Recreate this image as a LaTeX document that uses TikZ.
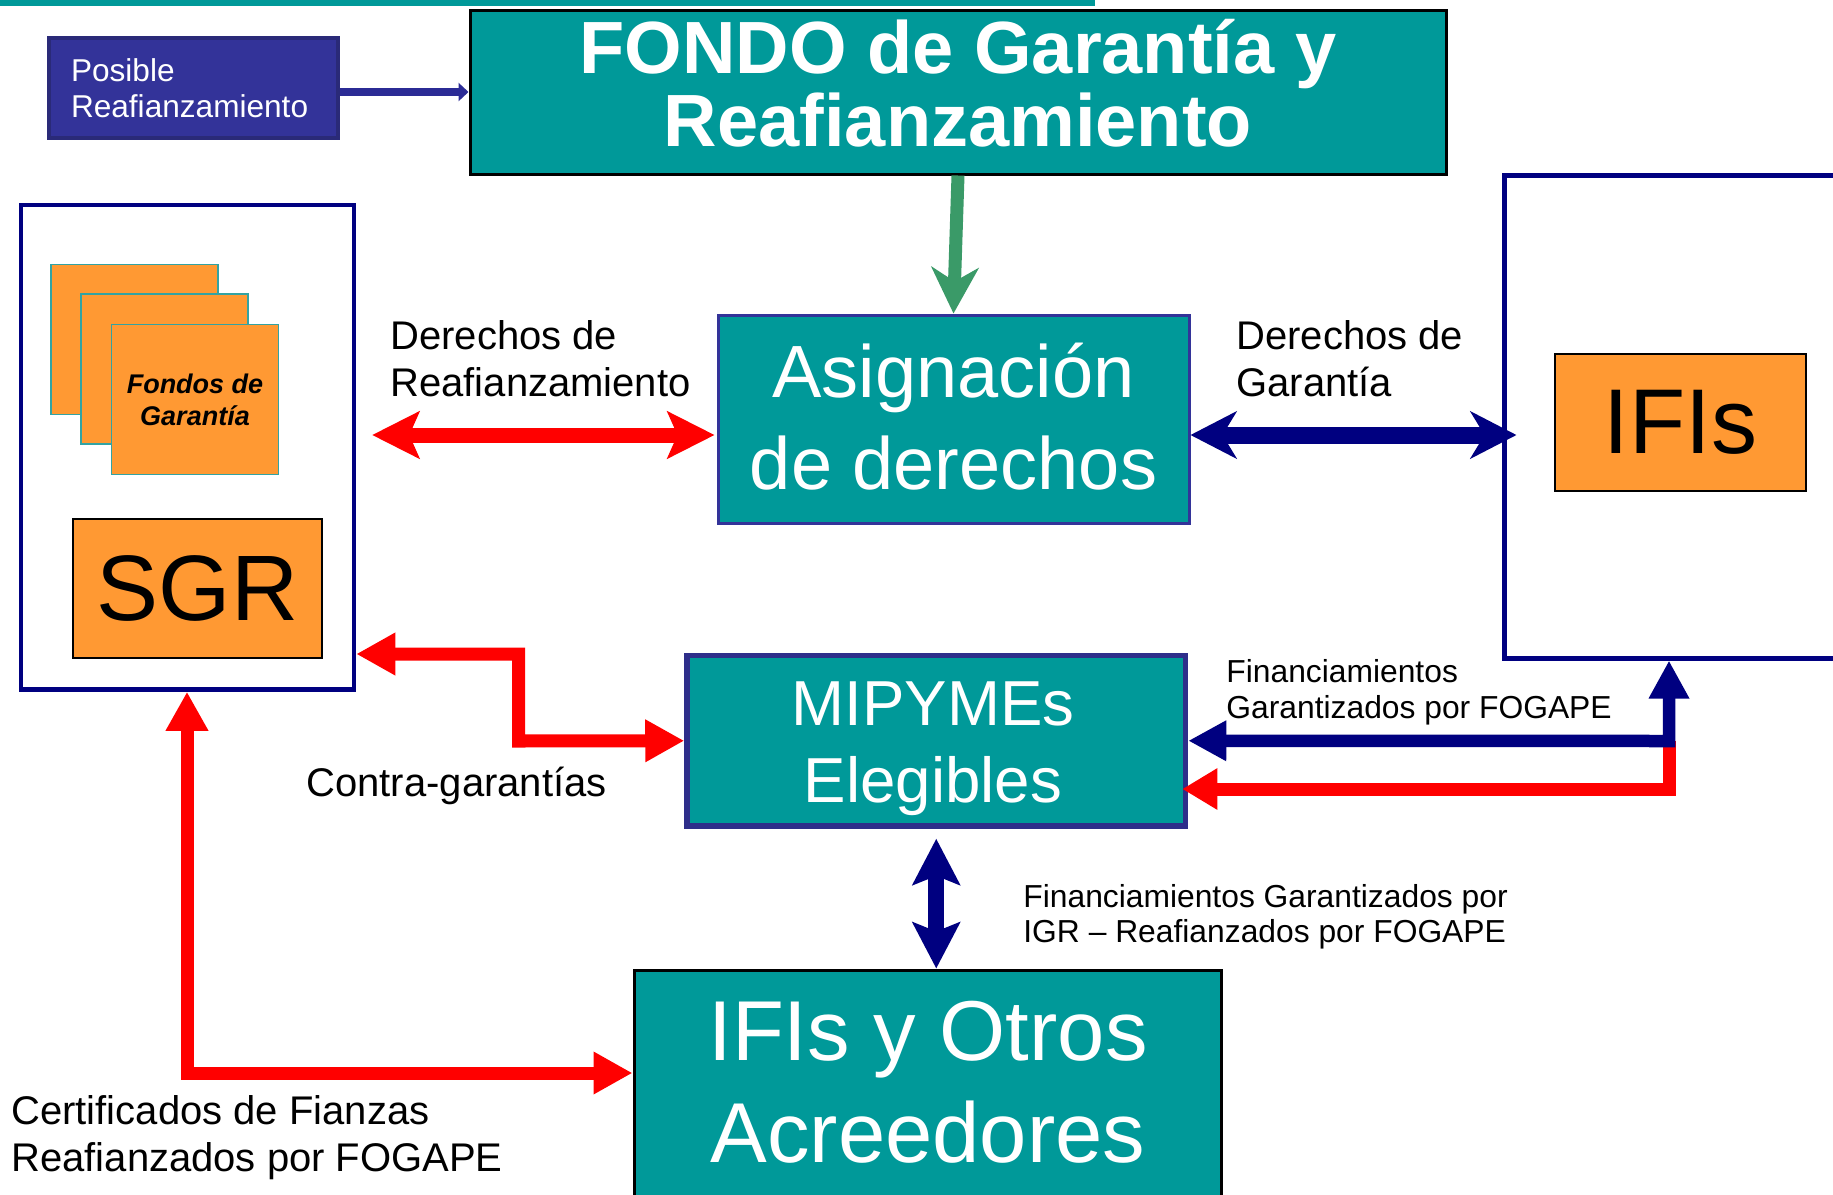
\documentclass[tikz,border=0pt]{standalone}
\usepackage{fontspec}
\setmainfont{Liberation Sans}
\usetikzlibrary{arrows.meta,calc}
\definecolor{tealc}{HTML}{009999}
\definecolor{boxblue}{HTML}{333399}
\definecolor{posborder}{HTML}{2A2A78}
\definecolor{navyc}{HTML}{000080}
\definecolor{redc}{HTML}{FF0000}
\definecolor{orangec}{HTML}{FF9933}
\definecolor{greenc}{HTML}{3A9A68}
\definecolor{sqborder}{HTML}{33A3A3}
\definecolor{mipyborder}{HTML}{2E2E8A}
\definecolor{posarrowc}{HTML}{2B2B95}
\tikzset{
  bigstealth/.tip={Stealth[length=23pt,width=23.5pt,inset=7pt]},
  redstealth/.tip={Stealth[length=23.5pt,width=23.5pt,inset=5pt]},
  vstealth/.tip={Stealth[length=23pt,width=23.5pt,inset=4.5pt]},
  redtri/.tip={Triangle[length=19.5pt,width=20pt]},
  redtrismall/.tip={Triangle[length=17.5pt,width=19.5pt]},
  bluetri/.tip={Triangle[length=19pt,width=19pt]},
  postri/.tip={Triangle[length=5pt,width=9pt]},
  tealbox/.style={fill=tealc, inner sep=0pt},
  whitetxt/.style={text=white, align=center, inner sep=0pt},
  lbl/.style={anchor=north west, inner sep=0pt, align=left, font=\fontsize{20pt}{23.5pt}\selectfont},
  orangebox/.style={fill=orangec, draw=black, line width=1pt, inner sep=0pt},
  fondsq/.style={fill=orangec, draw=sqborder, line width=0.75pt, minimum width=83.5pt, minimum height=75pt, inner sep=0pt},
  navyframe/.style={draw=navyc, inner sep=0pt},
  redarrow/.style={draw=redc, line width=6.5pt},
  bluearrow/.style={draw=navyc, line width=6.25pt},
}
\begin{document}
\begin{tikzpicture}[x=0.5pt,y=-0.5pt]
\useasboundingbox (0,0) rectangle (1833,1195);
\fill[white] (0,0) rectangle (1833,1195);
\fill[tealc] (0,0) rectangle (1095,6);

% level coordinates
\coordinate (y435) at (0,435);
\coordinate (y654) at (0,654);
\coordinate (y789) at (0,789);
\coordinate (y1073) at (0,1073);
\coordinate (x187) at (187,0);
\coordinate (x1669) at (1669,0);
\coordinate (bend1) at (518.5,654);
\coordinate (bend2) at (518.5,741);
\coordinate (bend3) at (187,1073);
\coordinate (bend4) at (1669,741);
\coordinate (bend5) at (1669,789);

% boxes
\node[fill=boxblue, draw=posborder, line width=2pt, minimum width=144.5pt, minimum height=50pt,
      text=white, font=\fontsize{15.8pt}{18pt}\selectfont, align=left, text width=122.5pt, inner xsep=11pt, inner ysep=0pt]
      (posible) at (193.5,88) {Posible\\Reafianzamiento};

\node[tealbox, draw=black, line width=1.5pt, minimum width=488pt, minimum height=82pt] (fondo) at (958,92) {};
\node[whitetxt, font=\bfseries\fontsize{37pt}{36.5pt}\selectfont] (fondotxt) at (958,83) {FONDO de Garantía y\\Reafianzamiento};

\node[tealbox, draw=boxblue, line width=1.5pt, minimum width=235.5pt, minimum height=104pt] (asig) at (953.5,419) {};
\node[whitetxt, font=\fontsize{37pt}{46pt}\selectfont] (asigtxt) at (953.5,417) {Asignación\\de derechos};

\node[navyframe, line width=2.5pt, minimum width=178pt, minimum height=241.5pt] (ifisbox) at (1682,416.5) {};
\node[orangebox, minimum width=125.5pt, minimum height=68.5pt, font=\fontsize{46pt}{46pt}\selectfont] (ifis) at (1680.5,422.5) {IFIs};

\node[navyframe, line width=2.25pt, minimum width=166.5pt, minimum height=242.25pt] (sgrbox) at (187.5,447.25) {};
\node[fondsq] (sq1) at (134.5,339.5) {};
\node[fondsq] (sq2) at (164.5,369) {};
\node[fondsq, font=\bfseries\itshape\fontsize{13.5pt}{16pt}\selectfont, align=center] (sq3) at (195,399.5) {Fondos de\\Garantía};
\node[orangebox, minimum width=124.5pt, minimum height=69.5pt, font=\fontsize{46.5pt}{46.5pt}\selectfont] (sgr) at (197.5,588.5) {SGR};

\node[tealbox, draw=mipyborder, line width=2.75pt, minimum width=249.25pt, minimum height=85.25pt] (mipy) at (936.25,740.75) {};
\node[whitetxt, font=\fontsize{31.8pt}{38.5pt}\selectfont] (mipytxt) at (933,749) {MIPYMEs\\Elegibles};

\node[tealbox, draw=black, line width=1.5pt, minimum width=293.5pt, minimum height=135pt] (otros) at (927.5,1105) {};
\node[whitetxt, font=\fontsize{42.5pt}{51pt}\selectfont] (otrostxt) at (928,1082) {IFIs y Otros\\Acreedores};

% labels
\node[lbl] (lreaf) at (390,320) {Derechos de\\Reafianzamiento};
\node[lbl] (lgar) at (1236,320) {Derechos de\\Garantía};
\node[lbl] (lcontra) at (306,767) {Contra-garantías};
\node[lbl] (lcert) at (11,1095) {Certificados de Fianzas\\Reafianzados por FOGAPE};
\node[lbl, font=\fontsize{15.9pt}{18pt}\selectfont] (lfin1) at (1226,659) {Financiamientos\\Garantizados por FOGAPE};
\node[lbl, font=\fontsize{15.9pt}{17.5pt}\selectfont] (lfin2) at (1023,884.5) {Financiamientos Garantizados por\\IGR – Reafianzados por FOGAPE};

% connectors
\draw[draw=posarrowc, line width=4pt, -postri] (posible.east |- fondo.west) -- (fondo.west);
\draw[draw=greenc, line width=6.5pt, -bigstealth] (fondo.south) -- (asig.north);
\draw[draw=redc, line width=7.5pt, redstealth-redstealth] ($(sgrbox.east |- y435)+(16,0)$) -- ($(asig.west |- y435)+(-2,0)$);
\draw[draw=navyc, line width=8.5pt, bigstealth-bigstealth] (asig.east |- y435) -- ($(ifisbox.west |- y435)+(15,0)$);
\draw[redarrow, redtri-redtri] (sgrbox.east |- y654) -- (bend1) -- (bend2) -- (mipy.west);
\draw[redarrow, redtri-redtri] (sgrbox.south -| x187) -- (bend3) -- (otros.west |- y1073);
\draw[draw=navyc, line width=8pt, vstealth-vstealth] ([yshift=-5pt]mipy.south) -- (otros.north -| mipy.south);
\draw[redarrow, -redtrismall] (bend4) -- (bend5) -- ($(mipy.east |- y789)+(-6,0)$);
\draw[bluearrow, bluetri-bluetri] (mipy.east) -- (bend4) -- (ifisbox.south -| x1669);
\end{tikzpicture}
\end{document}
